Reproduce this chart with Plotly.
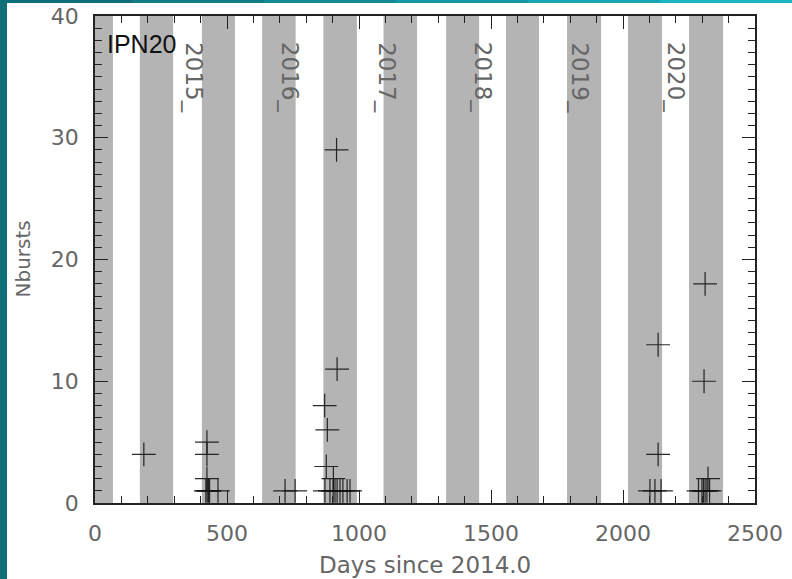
import plotly.graph_objects as go

# ---- data ----
band_start = [-60, 170, 405, 633, 865, 1093, 1330, 1557, 1788, 2019, 2250]
band_end = [68, 296, 530, 760, 992, 1220, 1455, 1682, 1917, 2148, 2379]

year_labels = ["2015_", "2016_", "2017_", "2018_", "2019_", "2020_"]
year_days = [365, 730, 1096, 1461, 1826, 2192]

days = [185,
        424, 424, 424, 420, 425, 430, 434, 466,
        720, 758,
        870, 880, 876, 903, 915, 917,
        871, 890, 902, 909, 917, 928, 939, 955, 966,
        2133, 2133, 2102, 2121, 2144,
        2311, 2307, 2322, 2286, 2299, 2305, 2311, 2318, 2328]
nbursts = [4,
           5, 4, 2, 1, 1, 1, 1, 1,
           1, 1,
           8, 6, 3, 2, 29, 11,
           1, 1, 1, 1, 1, 1, 1, 1, 1,
           13, 4, 1, 1, 1,
           18, 10, 2, 1, 1, 1, 1, 1, 1]

FONT = "DejaVu Sans"
GREY = "#666666"

fig = go.Figure()
fig.add_trace(go.Scatter(
    x=days, y=nbursts, mode="markers",
    marker=dict(symbol="cross-thin", size=17,
                line=dict(color="rgba(20,20,20,0.9)", width=1.2)),
    showlegend=False, hoverinfo="x+y"))

shapes = []
for s, e in zip(band_start, band_end):
    shapes.append(dict(type="rect", xref="x", yref="paper",
                       x0=max(s, 0), x1=e, y0=0, y1=1,
                       fillcolor="#b4b4b4", line=dict(width=0), layer="below"))

# teal frame of the slide (decoration outside the plot)
L, R, T, B = 95, 37, 16, 76
W, H = 792, 579
pw, ph = W - L - R, H - T - B
def px_x(p):
    return (p - L) / pw
def px_y(p):
    return (H - B - p) / ph
shapes.append(dict(type="rect", xref="paper", yref="paper",
                   x0=px_x(-2), x1=px_x(7), y0=px_y(581), y1=px_y(0),
                   fillcolor="#0f6f78", line=dict(width=0), layer="above"))
teal = ["#0f6f78", "#117c86", "#138a95", "#1598a4", "#17a6b4", "#19b3c4"]
seg = W / len(teal)
for i, c in enumerate(teal):
    shapes.append(dict(type="rect", xref="paper", yref="paper",
                       x0=px_x(i * seg), x1=px_x((i + 1) * seg + 1),
                       y0=px_y(3), y1=px_y(-2),
                       fillcolor=c, line=dict(width=0), layer="above"))

annotations = []
for lab, d in zip(year_labels, year_days):
    annotations.append(dict(x=d, y=px_y(40), xref="x", yref="paper",
                            text=lab, textangle=90, showarrow=False,
                            xanchor="center", yanchor="top", xshift=2,
                            font=dict(family=FONT, size=23, color=GREY)))
annotations.append(dict(x=0, y=1, xref="paper", yref="paper",
                        text="IPN20", showarrow=False,
                        xanchor="left", yanchor="top", xshift=10, yshift=-12,
                        font=dict(family="Liberation Sans", size=25, color="#111111")))
# axis titles
annotations.append(dict(x=0.5, y=px_y(565), xref="paper", yref="paper",
                        text="Days since 2014.0", showarrow=False,
                        xanchor="center", yanchor="middle",
                        font=dict(family=FONT, size=23, color=GREY)))
annotations.append(dict(x=px_x(22), y=0.5, xref="paper", yref="paper",
                        text="Nbursts", showarrow=False, textangle=-90,
                        xanchor="center", yanchor="middle",
                        font=dict(family=FONT, size=20, color=GREY)))

axis_common = dict(showgrid=False, zeroline=False, showline=True, mirror="allticks",
                   linecolor="#222222", linewidth=1.5, ticks="inside",
                   tickcolor="#222222", ticklen=13, tickwidth=1.2, automargin=False,
                   tickfont=dict(family=FONT, size=22, color=GREY))

fig.update_layout(
    width=W, height=H,
    margin=dict(l=L, r=R, t=T, b=B),
    paper_bgcolor="white", plot_bgcolor="white",
    shapes=shapes, annotations=annotations,
    xaxis=dict(range=[0, 2500], tickmode="linear", tick0=0, dtick=500,
               minor=dict(dtick=100, ticks="inside", ticklen=7, tickcolor="#222222"),
               ticklabelstandoff=10, **axis_common),
    yaxis=dict(range=[0, 40], tickmode="linear", tick0=0, dtick=10,
               minor=dict(dtick=1, ticks="inside", ticklen=7, tickcolor="#222222"),
               ticklabelstandoff=10, **axis_common),
)

fig.write_html("out.html", config={"displayModeBar": False},
               post_script="document.body.style.margin='0';document.body.style.padding='0';")
